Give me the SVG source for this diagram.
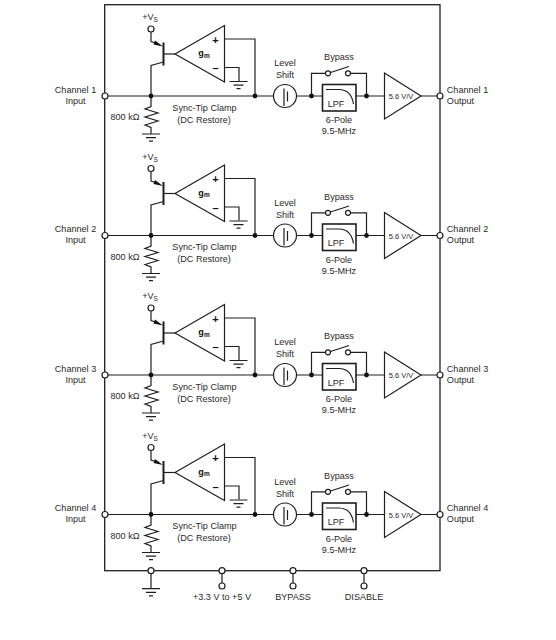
<svg xmlns="http://www.w3.org/2000/svg" xmlns:xlink="http://www.w3.org/1999/xlink" width="556" height="640" viewBox="0 0 556 640">
<style>
.w{fill:none;stroke:#1f1f1f;stroke-width:1.2}
.o{fill:#fff;stroke:#1f1f1f;stroke-width:1.2}
.d{fill:#111;stroke:none}
.t{font-family:"Liberation Sans",Arial,sans-serif;font-size:9.100px;fill:#2a2a2a;text-anchor:middle}
.b{font-weight:bold;fill:#111}
.s{font-weight:bold;fill:#111;font-size:11px}
</style>
<defs>
<g id="gnd"><path class="w" d="M-9 0H9M-5 3.600H5M-2 7.200H2"/></g>
<g id="wires">
<path class="w" d="M108 96H273.500M296.500 96H322M356 96H384.500M421 96H437"/>
<path class="w" d="M151 32V41.500L157 43.500M163.500 62L151 65.500V96"/>
<path class="w" d="M163.500 54H175"/>
<path class="w" d="M224.500 39H255V96M224.500 67.500H239V81"/>
<path class="w" d="M151 96V106.500L145 109 158 113 145 117 158 121 145 125 151 127.500V134"/>
<path class="w" d="M311.500 96V73.300H325.500M350.500 73.300H366.500V96"/>
<circle class="d" cx="151" cy="96" r="2.400"/>
<circle class="d" cx="255" cy="96" r="2.400"/>
<circle class="d" cx="311.500" cy="96" r="2.400"/>
<circle class="d" cx="366.500" cy="96" r="2.400"/>
</g>
<g id="transistor">
<circle class="o" cx="151" cy="29" r="3"/>
<path d="M163 46.500L153.500 44.500 155 40.500Z" fill="#111"/>
<path d="M163.500 42.500V65.500" fill="none" stroke="#1f1f1f" stroke-width="2"/>
</g>
<g id="gm"><path class="o" d="M175 54L224.500 25.500V82Z" stroke-width="1.300"/></g>
<g id="ls"><circle class="o" cx="285" cy="96" r="11.500" stroke-width="1.400"/><path class="w" d="M284 88.500V106M287.500 91.500V101.500"/></g>
<g id="sw">
<circle class="o" cx="328" cy="73.300" r="2.500"/><circle class="o" cx="348" cy="73.300" r="2.500"/>
<path class="w" d="M330.500 72.500L349 66.500"/>
</g>
<g id="lpf">
<rect x="322.500" y="84.500" width="33.500" height="26.500" fill="#fff" stroke="#1f1f1f" stroke-width="1.600"/>
<path class="w" d="M326 89.500H339C347 89.500 352 95 353.500 104"/>
</g>
<g id="amp"><path class="o" d="M384.500 73L421 96 384.500 119Z" stroke-width="1.300"/></g>
</defs>
<rect id="package" x="104.700" y="4.700" width="335.300" height="566" fill="none" stroke="#1f1f1f" stroke-width="1.300"/>
<g id="connectors">
<use xlink:href="#wires"/>
<use xlink:href="#wires" y="139.500"/>
<use xlink:href="#wires" y="279"/>
<use xlink:href="#wires" y="418.500"/>
<path class="w" d="M151 573.500V588.700M222 573.500V583.200M293 573.500V583.200M364 573.500V583.200"/>
</g>
<g id="channel1">
<use xlink:href="#gnd" x="151" y="134"/><use xlink:href="#gnd" x="238.500" y="81.500"/>
<use xlink:href="#transistor"/><use xlink:href="#gm"/><use xlink:href="#ls"/><use xlink:href="#sw"/><use xlink:href="#lpf"/><use xlink:href="#amp"/>
<circle class="o" cx="105" cy="96" r="3"/><circle class="o" cx="440" cy="96" r="3"/>
<text class="t" x="150" y="20">+V<tspan font-size="6.500" dy="2">S</tspan></text>
<text class="t s" x="215.500" y="43.500">+</text><text class="t s" x="215.500" y="72">–</text>
<text class="t b" x="204" y="56">g<tspan font-size="6.500" dy="1.500">m</tspan></text>
<text class="t" x="75.500" y="92.500">Channel 1</text><text class="t" x="75.500" y="103.500">Input</text>
<text class="t" x="125" y="120">800 kΩ</text>
<text class="t" x="204.500" y="110.500">Sync-Tip Clamp</text><text class="t" x="204" y="122.500">(DC Restore)</text>
<text class="t" x="285" y="66">Level</text><text class="t" x="285" y="78">Shift</text>
<text class="t" x="339" y="60">Bypass</text><text class="t" x="336" y="106.500">LPF</text>
<text class="t" x="339" y="123">6-Pole</text><text class="t" x="339" y="134">9.5-MHz</text>
<text class="t" x="401" y="99" style="font-size:7.500px">5.6 V/V</text>
<text class="t" x="467.500" y="92.500">Channel 1</text><text class="t" x="460.500" y="103.500">Output</text>
</g>
<g id="channel2" transform="translate(0 139.500)">
<use xlink:href="#gnd" x="151" y="134"/><use xlink:href="#gnd" x="238.500" y="81.500"/>
<use xlink:href="#transistor"/><use xlink:href="#gm"/><use xlink:href="#ls"/><use xlink:href="#sw"/><use xlink:href="#lpf"/><use xlink:href="#amp"/>
<circle class="o" cx="105" cy="96" r="3"/><circle class="o" cx="440" cy="96" r="3"/>
<text class="t" x="150" y="20">+V<tspan font-size="6.500" dy="2">S</tspan></text>
<text class="t s" x="215.500" y="43.500">+</text><text class="t s" x="215.500" y="72">–</text>
<text class="t b" x="204" y="56">g<tspan font-size="6.500" dy="1.500">m</tspan></text>
<text class="t" x="75.500" y="92.500">Channel 2</text><text class="t" x="75.500" y="103.500">Input</text>
<text class="t" x="125" y="120">800 kΩ</text>
<text class="t" x="204.500" y="110.500">Sync-Tip Clamp</text><text class="t" x="204" y="122.500">(DC Restore)</text>
<text class="t" x="285" y="66">Level</text><text class="t" x="285" y="78">Shift</text>
<text class="t" x="339" y="60">Bypass</text><text class="t" x="336" y="106.500">LPF</text>
<text class="t" x="339" y="123">6-Pole</text><text class="t" x="339" y="134">9.5-MHz</text>
<text class="t" x="401" y="99" style="font-size:7.500px">5.6 V/V</text>
<text class="t" x="467.500" y="92.500">Channel 2</text><text class="t" x="460.500" y="103.500">Output</text>
</g>
<g id="channel3" transform="translate(0 279)">
<use xlink:href="#gnd" x="151" y="134"/><use xlink:href="#gnd" x="238.500" y="81.500"/>
<use xlink:href="#transistor"/><use xlink:href="#gm"/><use xlink:href="#ls"/><use xlink:href="#sw"/><use xlink:href="#lpf"/><use xlink:href="#amp"/>
<circle class="o" cx="105" cy="96" r="3"/><circle class="o" cx="440" cy="96" r="3"/>
<text class="t" x="150" y="20">+V<tspan font-size="6.500" dy="2">S</tspan></text>
<text class="t s" x="215.500" y="43.500">+</text><text class="t s" x="215.500" y="72">–</text>
<text class="t b" x="204" y="56">g<tspan font-size="6.500" dy="1.500">m</tspan></text>
<text class="t" x="75.500" y="92.500">Channel 3</text><text class="t" x="75.500" y="103.500">Input</text>
<text class="t" x="125" y="120">800 kΩ</text>
<text class="t" x="204.500" y="110.500">Sync-Tip Clamp</text><text class="t" x="204" y="122.500">(DC Restore)</text>
<text class="t" x="285" y="66">Level</text><text class="t" x="285" y="78">Shift</text>
<text class="t" x="339" y="60">Bypass</text><text class="t" x="336" y="106.500">LPF</text>
<text class="t" x="339" y="123">6-Pole</text><text class="t" x="339" y="134">9.5-MHz</text>
<text class="t" x="401" y="99" style="font-size:7.500px">5.6 V/V</text>
<text class="t" x="467.500" y="92.500">Channel 3</text><text class="t" x="460.500" y="103.500">Output</text>
</g>
<g id="channel4" transform="translate(0 418.500)">
<use xlink:href="#gnd" x="151" y="134"/><use xlink:href="#gnd" x="238.500" y="81.500"/>
<use xlink:href="#transistor"/><use xlink:href="#gm"/><use xlink:href="#ls"/><use xlink:href="#sw"/><use xlink:href="#lpf"/><use xlink:href="#amp"/>
<circle class="o" cx="105" cy="96" r="3"/><circle class="o" cx="440" cy="96" r="3"/>
<text class="t" x="150" y="20">+V<tspan font-size="6.500" dy="2">S</tspan></text>
<text class="t s" x="215.500" y="43.500">+</text><text class="t s" x="215.500" y="72">–</text>
<text class="t b" x="204" y="56">g<tspan font-size="6.500" dy="1.500">m</tspan></text>
<text class="t" x="75.500" y="92.500">Channel 4</text><text class="t" x="75.500" y="103.500">Input</text>
<text class="t" x="125" y="120">800 kΩ</text>
<text class="t" x="204.500" y="110.500">Sync-Tip Clamp</text><text class="t" x="204" y="122.500">(DC Restore)</text>
<text class="t" x="285" y="66">Level</text><text class="t" x="285" y="78">Shift</text>
<text class="t" x="339" y="60">Bypass</text><text class="t" x="336" y="106.500">LPF</text>
<text class="t" x="339" y="123">6-Pole</text><text class="t" x="339" y="134">9.5-MHz</text>
<text class="t" x="401" y="99" style="font-size:7.500px">5.6 V/V</text>
<text class="t" x="467.500" y="92.500">Channel 4</text><text class="t" x="460.500" y="103.500">Output</text>
</g>
<g id="pin-gnd"><circle class="o" cx="151" cy="570.700" r="3"/><use xlink:href="#gnd" x="151" y="588.700"/></g>
<g id="pin-supply"><circle class="o" cx="222" cy="570.700" r="3"/><circle class="o" cx="222" cy="586" r="3"/><text class="t" x="222" y="600">+3.3 V to +5 V</text></g>
<g id="pin-bypass"><circle class="o" cx="293" cy="570.700" r="3"/><circle class="o" cx="293" cy="586" r="3"/><text class="t" x="293" y="600">BYPASS</text></g>
<g id="pin-disable"><circle class="o" cx="364" cy="570.700" r="3"/><circle class="o" cx="364" cy="586" r="3"/><text class="t" x="364" y="600">DISABLE</text></g>
</svg>
